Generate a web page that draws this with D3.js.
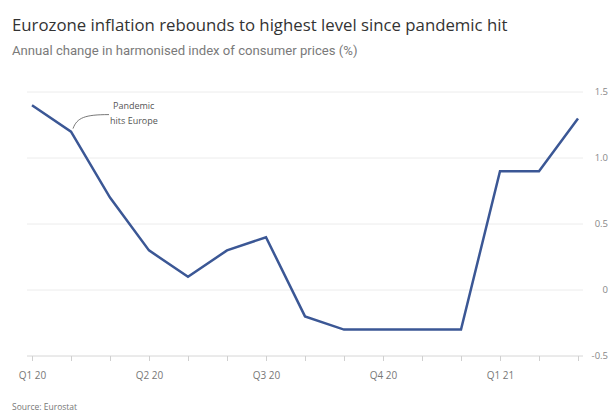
<!DOCTYPE html>
<html><head><meta charset="utf-8">
<script src="https://cdn.jsdelivr.net/npm/d3@7"></script>
<style>body{margin:0;background:#fff;} svg{display:block;font-family:"Open Sans",sans-serif;}</style>
</head><body>
<svg id="c" width="611" height="414"></svg>
<script>
const months = ["Jan 20","Feb 20","Mar 20","Apr 20","May 20","Jun 20","Jul 20","Aug 20","Sep 20","Oct 20","Nov 20","Dec 20","Jan 21","Feb 21","Mar 21"];
const values = [1.4,1.2,0.7,0.3,0.1,0.3,0.4,-0.2,-0.3,-0.3,-0.3,-0.3,0.9,0.9,1.3];
const quarterLabels = ["Q1 20","","","Q2 20","","","Q3 20","","","Q4 20","","","Q1 21","",""];
const yTicks = [-0.5,0,0.5,1,1.5];
const yTickLabels = ["-0.5","0","0.5","1.0","1.5"];

const svg = d3.select("#c");
const x = d3.scalePoint().domain(months).range([32,578]);
const y = d3.scaleLinear().domain([-0.5,1.5]).range([356,92]);

function fit(sel, w){ const n=sel.node(); let fs=parseFloat(sel.attr("font-size")); const l=n.getComputedTextLength(); sel.attr("font-size", fs*w/l); }

const t = svg.append("text").attr("x",12).attr("y",31).attr("font-size",16).attr("fill","#333").text("Eurozone inflation rebounds to highest level since pandemic hit");
fit(t,496);
const st = svg.append("text").attr("x",12).attr("y",55).attr("font-size",10).attr("fill","#7a7a7a").attr("font-family","Roboto, sans-serif").text("Annual change in harmonised index of consumer prices (%)");
fit(st,346);

// gridlines
svg.append("g").selectAll("line").data(yTicks).join("line")
  .attr("x1",27).attr("x2",583).attr("y1",d=>y(d)).attr("y2",d=>y(d))
  .attr("stroke",d=>d===-0.5?"#d6d6d6":"#ececec").attr("stroke-width",1);
svg.append("g").selectAll("text").data(yTicks).join("text")
  .attr("x",608).attr("y",d=>y(d)).attr("dy","0.35em").attr("text-anchor","end")
  .attr("font-size",9.5).attr("fill","#888").text((d,i)=>yTickLabels[i]);

// x axis
const xAxis = d3.axisBottom(x).tickSize(5).tickPadding(11).tickFormat((d,i)=>quarterLabels[i]);
const gx = svg.append("g").attr("transform","translate(0,356)").call(xAxis);
gx.select(".domain").remove();
gx.selectAll(".tick line").attr("stroke","#d0d0d0");
gx.selectAll(".tick text").attr("font-size",10).attr("fill","#777").attr("font-family","Open Sans, sans-serif");

// line
svg.append("path").datum(values)
  .attr("d", d3.line().x((d,i)=>x(months[i])).y(d=>y(d)))
  .attr("fill","none").attr("stroke","#3b5795").attr("stroke-width",2.5).attr("stroke-linejoin","miter");

// annotation
const px = x(months[1]), py = y(values[1]);
svg.append("path").attr("d",`M${px+2},${py-3} C${px+6},${py-14} ${px+14},${py-17} ${px+38},${py-17}`)
  .attr("fill","none").attr("stroke","#555").attr("stroke-width",0.8);
svg.append("text").attr("x",113).attr("y",109).attr("font-size",9).attr("fill","#555").text("Pandemic");
svg.append("text").attr("x",110).attr("y",124).attr("font-size",9).attr("fill","#555").text("hits Europe");

const src = svg.append("text").attr("x",12).attr("y",410).attr("font-size",8.5).attr("fill","#777").text("Source: Eurostat");
</script>
</body></html>
